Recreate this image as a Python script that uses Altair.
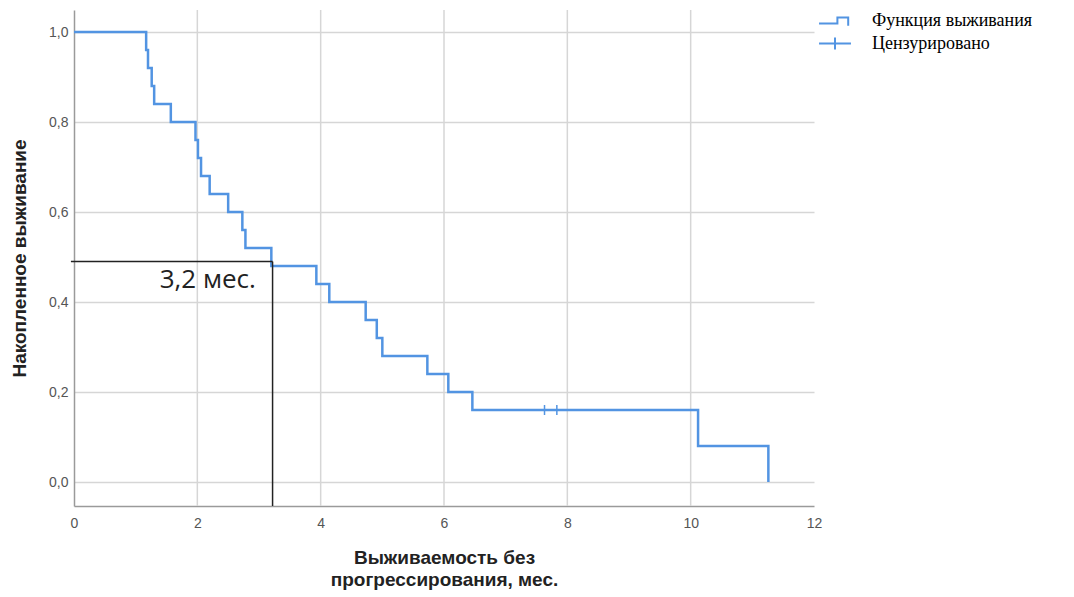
import altair as alt
import pandas as pd

# Kaplan-Meier step points (time in months, cumulative survival)
times = [0, 1.17, 1.20, 1.26, 1.30, 1.57, 1.97, 2.01, 2.06, 2.20, 2.50, 2.73, 2.78,
         3.20, 3.93, 4.14, 4.73, 4.91, 5.00, 5.73, 6.07, 6.46, 10.12, 11.26]
surv = [1.00, 0.96, 0.92, 0.88, 0.84, 0.80, 0.76, 0.72, 0.68, 0.64, 0.60, 0.56, 0.52,
        0.48, 0.44, 0.40, 0.36, 0.32, 0.28, 0.24, 0.20, 0.16, 0.08, 0.00]
censor_times = [7.63, 7.83]
censor_surv = [0.16, 0.16]

median_time = 3.22
median_level = 0.49
median_label = "3,2 мес."
label_x = 2.17
label_y = 0.431

x_ticks = [0, 2, 4, 6, 8, 10, 12]
y_ticks = [0.0, 0.2, 0.4, 0.6, 0.8, 1.0]
grid_x = [2, 4, 6, 8, 10]
legend_labels = ["Функция выживания", "Цензурировано"]

BLUE = "#5294e2"
GRID = "#d6d6d6"
X_DOMAIN = [0, 12]
Y_DOMAIN = [-0.0533, 1.049]

xs = alt.Scale(domain=X_DOMAIN, nice=False, zero=False)
ys = alt.Scale(domain=Y_DOMAIN, nice=False, zero=False)

km = pd.DataFrame({"x": times, "y": surv})
cens = pd.DataFrame({"x": censor_times, "y": censor_surv})
gx = pd.DataFrame({"x": grid_x})
hline = pd.DataFrame({"x": [-0.05], "x2": [median_time], "y": [median_level]})
vline = pd.DataFrame({"x": [median_time], "y": [median_level], "y2": [Y_DOMAIN[0]]})
txt = pd.DataFrame({"x": [label_x], "y": [label_y], "t": [median_label]})
leg = pd.DataFrame({"label": legend_labels})

grid_layer = alt.Chart(gx).mark_rule(color=GRID, strokeWidth=1.5).encode(
    x=alt.X("x:Q", scale=xs)
)

line = alt.Chart(km).mark_line(interpolate="step-after", color=BLUE, strokeWidth=2.5).encode(
    x=alt.X("x:Q", scale=xs,
            axis=alt.Axis(values=x_ticks, format="d", grid=False, ticks=False,
                          labelFlush=False,
                          labelPadding=10, labelFont="Liberation Sans", labelFontSize=14,
                          labelColor="#555555", domainColor="#9a9a9a", domainWidth=1.5,
                          title=["Выживаемость без", "прогрессирования, мес."],
                          titleFont="Liberation Sans", titleFontSize=19,
                          titleFontWeight="bold", titleColor="#222222",
                          titleLineHeight=22, titlePadding=18)),
    y=alt.Y("y:Q", scale=ys,
            axis=alt.Axis(values=y_ticks,
                          labelExpr="replace(format(datum.value, '.1f'), '.', ',')",
                          grid=True, gridColor=GRID, gridWidth=1.5, ticks=False,
                          labelPadding=6, labelFont="Liberation Sans", labelFontSize=14,
                          labelColor="#555555", domainColor="#9a9a9a", domainWidth=1.5,
                          title="Накопленное выживание", titleFont="Liberation Sans",
                          titleFontSize=19, titleFontWeight="bold", titleColor="#222222",
                          titlePadding=19)),
)

censor = alt.Chart(cens).mark_point(shape="M0,-1V1", size=100, filled=False,
                                    color=BLUE, strokeWidth=1.5, opacity=1).encode(
    x=alt.X("x:Q", scale=xs), y=alt.Y("y:Q", scale=ys)
)

h_rule = alt.Chart(hline).mark_rule(color="#222222", strokeWidth=1.5).encode(
    x=alt.X("x:Q", scale=xs), x2="x2:Q", y=alt.Y("y:Q", scale=ys)
)
v_rule = alt.Chart(vline).mark_rule(color="#222222", strokeWidth=1.5).encode(
    x=alt.X("x:Q", scale=xs), y=alt.Y("y:Q", scale=ys), y2="y2:Q"
)

label = alt.Chart(txt).mark_text(font="Open Sans", fontSize=26, color="#222222",
                                 align="center", baseline="alphabetic").encode(
    x=alt.X("x:Q", scale=xs), y=alt.Y("y:Q", scale=ys), text="t:N"
)

legend_layer = alt.Chart(leg).mark_point(opacity=0, filled=False, color=BLUE).encode(
    shape=alt.Shape("label:N",
                    scale=alt.Scale(domain=legend_labels,
                                    range=["M-1.33,0.2H0.2V-0.3H1.1V0.4",
                                           "M-1.33,0H1.33M0,-0.5V0.5"]),
                    legend=alt.Legend(orient="none", legendX=748, legendY=-2, title=None,
                                      symbolSize=576, symbolStrokeColor=BLUE,
                                      symbolFillColor="transparent", symbolStrokeWidth=2,
                                      symbolOpacity=1, labelFont="Liberation Serif",
                                      labelFontSize=18, labelColor="#000000",
                                      labelOffset=24, labelLimit=400, rowPadding=0.5))
)

chart = alt.layer(grid_layer, line, censor, h_rule, v_rule, label, legend_layer).properties(
    width=740, height=496,
    padding={"left": 66, "top": 2, "right": 250, "bottom": 88},
    autosize="none",
).configure(background="white").configure_view(stroke=None, strokeWidth=0)

chart.save("out.html", embed_options={"renderer": "svg", "actions": False})
